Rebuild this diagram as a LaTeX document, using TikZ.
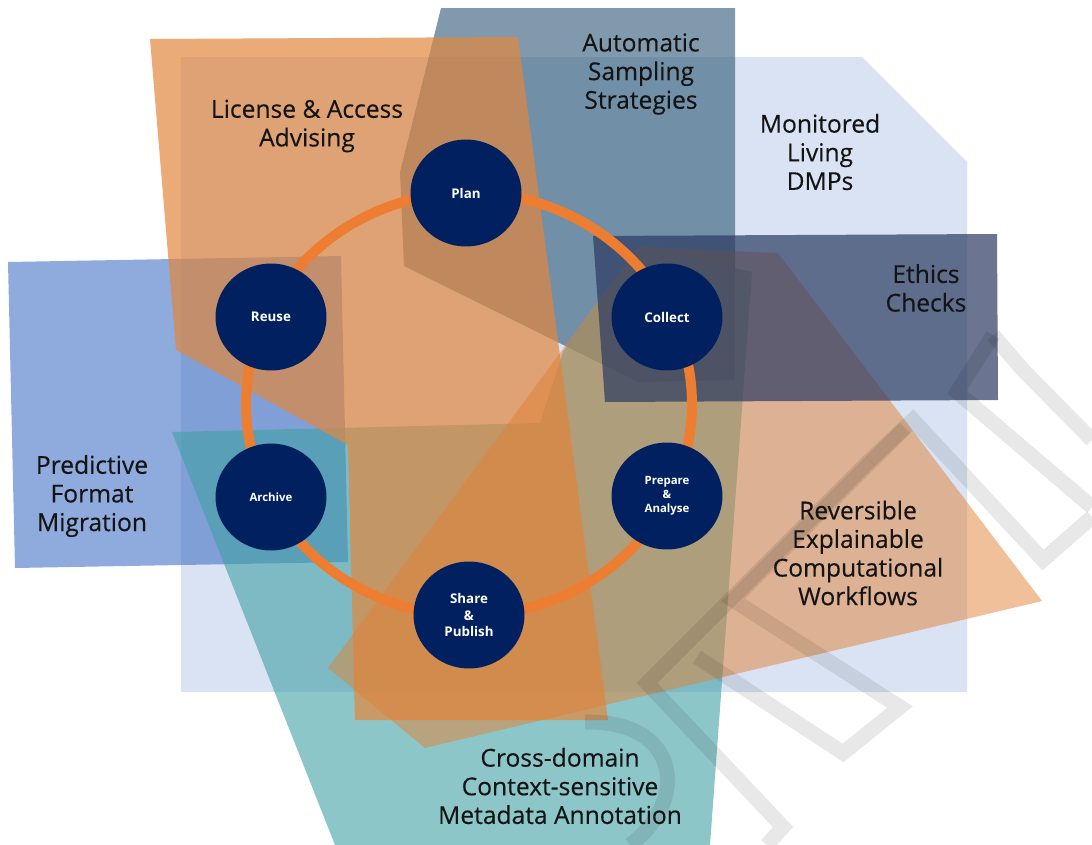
\documentclass[tikz,border=0pt]{standalone}
\usepackage{fontspec}
\setmainfont{Open Sans}
\newfontface\themeface{Open Sans}[FakeBold=0.3]
\usetikzlibrary{shapes.geometric}

\definecolor{navy}{HTML}{002060}
\definecolor{ringorange}{HTML}{ED7D31}
\definecolor{officeblue}{HTML}{4472C4}
\definecolor{slateblue}{RGB}{60,99,128}
\definecolor{inkblue}{RGB}{44,59,98}
\definecolor{licorange}{RGB}{225,135,62}
\definecolor{revorange}{RGB}{225,129,53}
\definecolor{tealfill}{RGB}{65,160,165}
\definecolor{txt}{HTML}{141414}

\tikzset{
  panel/.style={draw=none},
  stage/.style={ellipse, fill=navy, minimum width=2.22cm, minimum height=2.14cm,
    inner sep=0pt, text=white, align=center,
    font=\bfseries\fontsize{7.6}{9.6}\selectfont},
  smallstage/.style={stage, font=\bfseries\fontsize{6.5}{8}\selectfont},
  theme/.style={text=txt, align=center, inner sep=0pt,
    font=\themeface\fontsize{14}{16.3}\selectfont},
  cycle/.style={draw=ringorange, line width=0.2cm},
  stamp/.style={draw=black, draw opacity=0.09, line width=0.3cm, line join=miter}
}

\begin{document}
\begin{tikzpicture}[x=0.02cm, y=-0.02cm]
\useasboundingbox (0,0) rectangle (1092,845);

% translucent theme panels, back to front
\fill[panel, officeblue, fill opacity=0.2]
  (181,57) -- (862,57) -- (967,162) -- (967,692) -- (181,692) -- cycle;
\fill[panel, slateblue, fill opacity=0.65]
  (441,8) -- (735,8) -- (735,380) -- (638,382) -- (404,266) -- (400,172) -- cycle;
\fill[panel, officeblue, fill opacity=0.6]
  (8,262) -- (341,256) -- (348,562) -- (15,568) -- cycle;
\fill[panel, tealfill, fill opacity=0.6]
  (172,432) -- (540,423) -- (563,352) -- (638,247) -- (752,272) -- (710,845) -- (335,845) -- cycle;
\fill[panel, licorange, fill opacity=0.7]
  (150,39) -- (518,37) -- (608,720) -- (355,720) -- (348,445) -- (176,350) -- cycle;
\fill[panel, revorange, fill opacity=0.5]
  (638,247) -- (778,253) -- (1042,601) -- (425,748) -- (328,668) -- cycle;
\fill[panel, inkblue, fill opacity=0.7]
  (593,236) -- (997,234) -- (998,400) -- (605,402) -- cycle;

% faint stamp lettering
\draw[stamp] (993,335) -- (1023,370) -- (1092,440);
\draw[stamp] (993,335) -- (957,392) -- (1092,507);
\draw[stamp] (1092,517) -- (1043,560) -- (913,420) -- (870,460);
\draw[stamp] (870,460) -- (647,683) -- (783,827) -- (767,845);
\draw[stamp] (697,657) -- (843,753) -- (900,707) -- (733,600) -- (905,428);
\draw[stamp] (585,722) .. controls (680,720) and (690,800) .. (630,845);

% lifecycle ring
\draw[cycle] (469,404) ellipse [x radius=4.46cm, y radius=4.23cm];

% lifecycle stages
\node[stage] (plan) at (466,193) {Plan};
\node[stage] (collect) at (667,317) {Collect};
\node[smallstage] (prepare) at (667,496) {Prepare\\\&\\Analyse};
\node[stage] (share) at (469,615) {Share\\\&\\Publish};
\node[smallstage] (archive) at (271,497) {Archive};
\node[stage] (reuse) at (271,317) {Reuse};

% theme labels
\node[theme] (license) at (307,126) {License \& Access\\Advising};
\node[theme] (sampling) at (641,74) {Automatic\\Sampling\\Strategies};
\node[theme] (dmps) at (820,152) {Monitored\\Living\\DMPs};
\node[theme] (ethics) at (926,288) {Ethics\\Checks};
\node[theme] (migration) at (92,496) {Predictive\\Format\\Migration};
\node[theme] (workflows) at (858,553) {Reversible\\Explainable\\Computational\\Workflows};
\node[theme] (metadata) at (560,786) {Cross-domain\\Context-sensitive\\Metadata Annotation};
\end{tikzpicture}
\end{document}
